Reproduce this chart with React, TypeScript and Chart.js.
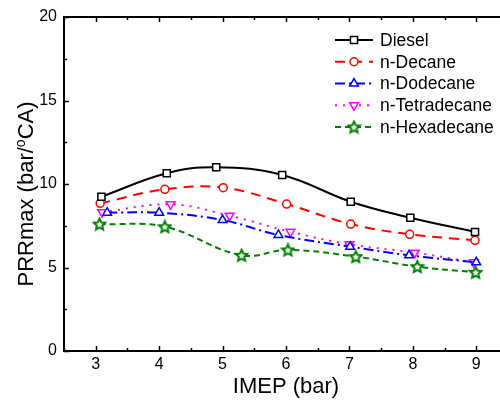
import React, { useEffect, useRef } from 'react';
import { Chart, registerables } from 'chart.js';
import { drawPoint } from 'chart.js/helpers';

Chart.register(...registerables);

const SERIES_NAMES = ['Diesel', 'n-Decane', 'n-Dodecane', 'n-Tetradecane', 'n-Hexadecane'];

const IMEP_DIESEL = [3.09, 4.12, 4.9, 5.94, 7.02, 7.96, 8.98];
const PRR_DIESEL = [9.24, 10.64, 11.0, 10.54, 8.94, 7.98, 7.13];

const IMEP_DECANE = [3.07, 4.09, 5.01, 6.01, 7.02, 7.95, 8.98];
const PRR_DECANE = [8.84, 9.68, 9.78, 8.8, 7.6, 6.99, 6.63];

const IMEP_DODECANE = [3.18, 4.0, 5.0, 5.88, 7.01, 7.94, 9.0];
const PRR_DODECANE = [8.28, 8.28, 7.84, 6.95, 6.25, 5.73, 5.31];

const IMEP_TETRADECANE = [3.1, 4.18, 5.11, 6.07, 7.0, 8.03, 8.96];
const PRR_TETRADECANE = [8.31, 8.78, 8.1, 7.14, 6.39, 5.89, 5.31];

const IMEP_HEXADECANE = [3.06, 4.09, 5.3, 6.03, 7.1, 8.07, 8.99];
const PRR_HEXADECANE = [7.6, 7.44, 5.73, 6.05, 5.65, 5.05, 4.71];

const X_TICKS = [3, 4, 5, 6, 7, 8, 9];
const Y_TICKS = [0, 5, 10, 15, 20];
const X_MIN = 2.5;
const X_MAX = 9.5;
const Y_MIN = 0;
const Y_MAX = 20;

const X_TITLE = 'IMEP (bar)';
const Y_TITLE_PARTS = ['PRRmax (bar/', 'o', 'CA)'];

const FONT = 'Arial, "Liberation Sans", sans-serif';

function makeStar(color: string) {
  const c = document.createElement('canvas');
  c.width = 15;
  c.height = 15;
  const ctx = c.getContext('2d')!;
  ctx.beginPath();
  for (let i = 0; i < 10; i++) {
    const r = i % 2 === 0 ? 6 : 2.9;
    const a = -Math.PI / 2 + (i * Math.PI) / 5;
    ctx.lineTo(7.5 + r * Math.cos(a), 8 + r * Math.sin(a));
  }
  ctx.closePath();
  ctx.fillStyle = '#fff';
  ctx.fill();
  ctx.strokeStyle = color;
  ctx.lineWidth = 2;
  ctx.stroke();
  return c;
}

const framePlugin = {
  id: 'frame',
  afterDraw(chart: any) {
    const ctx = chart.ctx;
    const area = chart.chartArea;
    const xs = chart.scales.x;
    const ys = chart.scales.y;
    ctx.save();
    ctx.setLineDash([]);
    ctx.strokeStyle = '#000';
    // ticks
    ctx.lineWidth = 1.5;
    ctx.beginPath();
    for (let v = X_MIN; v <= X_MAX + 1e-9; v += 0.5) {
      const px = Math.round(xs.getPixelForValue(v)) + 0.5;
      const major = Math.abs(v - Math.round(v)) < 1e-9;
      const len = major ? 5 : 3;
      ctx.moveTo(px, area.bottom);
      ctx.lineTo(px, area.bottom - len);
      ctx.moveTo(px, area.top);
      ctx.lineTo(px, area.top + len);
    }
    for (let v = Y_MIN; v <= Y_MAX + 1e-9; v += 2.5) {
      const py = Math.round(ys.getPixelForValue(v)) + 0.5;
      const major = Math.abs(v / 5 - Math.round(v / 5)) < 1e-9;
      const len = major ? 5 : 3;
      ctx.moveTo(area.left, py);
      ctx.lineTo(area.left + len, py);
    }
    ctx.stroke();
    // frame
    ctx.lineWidth = 2;
    ctx.beginPath();
    ctx.moveTo(area.right + 5, area.top);
    ctx.lineTo(area.left, area.top);
    ctx.lineTo(area.left, area.bottom);
    ctx.lineTo(area.right + 5, area.bottom);
    ctx.stroke();

    // axis titles
    ctx.fillStyle = '#000';
    ctx.font = `22px ${FONT}`;
    ctx.textAlign = 'center';
    ctx.textBaseline = 'alphabetic';
    ctx.fillText(X_TITLE, (area.left + area.right) / 2, 393);

    ctx.translate(33, (area.top + area.bottom) / 2 + 10);
    ctx.rotate(-Math.PI / 2);
    ctx.textAlign = 'left';
    const mainFont = `22px ${FONT}`;
    const supFont = `14px ${FONT}`;
    ctx.font = mainFont;
    const w0 = ctx.measureText(Y_TITLE_PARTS[0]).width;
    const w2 = ctx.measureText(Y_TITLE_PARTS[2]).width;
    ctx.font = supFont;
    const w1 = ctx.measureText(Y_TITLE_PARTS[1]).width;
    let x = -(w0 + w1 + w2) / 2;
    ctx.font = mainFont;
    ctx.fillText(Y_TITLE_PARTS[0], x, 0);
    x += w0;
    ctx.font = supFont;
    ctx.fillText(Y_TITLE_PARTS[1], x, -8);
    x += w1;
    ctx.font = mainFont;
    ctx.fillText(Y_TITLE_PARTS[2], x, 0);
    ctx.restore();

    // legend
    ctx.save();
    const lx = area.right - 173;
    chart.data.datasets.forEach((ds: any, i: number) => {
      const y = area.top + 23 + i * 21.75;
      ctx.strokeStyle = ds.borderColor;
      ctx.lineWidth = ds.borderWidth;
      ctx.setLineDash(ds.borderDash || []);
      ctx.beginPath();
      ctx.moveTo(lx, y);
      ctx.lineTo(lx + 38, y);
      ctx.stroke();
      ctx.setLineDash([]);
      ctx.fillStyle = '#fff';
      ctx.strokeStyle = ds.borderColor;
      ctx.lineWidth = ds.pointBorderWidth;
      drawPoint(ctx, {
        pointStyle: ds.pointStyle,
        rotation: ds.pointRotation || 0,
        radius: ds.pointRadius,
        borderWidth: ds.pointBorderWidth,
      } as any, lx + 19, y);
      ctx.fillStyle = '#000';
      ctx.font = `17.5px ${FONT}`;
      ctx.textAlign = 'left';
      ctx.textBaseline = 'middle';
      ctx.fillText(ds.label, lx + 45, y + 1);
    });
    ctx.restore();
  },
};

export default function App() {
  const ref = useRef<HTMLCanvasElement>(null);
  useEffect(() => {
    document.body.style.margin = '0';
    const star = makeStar('#008000');
    const pts = (xs: number[], ys: number[]) => xs.map((x, i) => ({ x, y: ys[i] }));
    const chart = new Chart(ref.current!, {
      type: 'line',
      data: {
        datasets: [
          {
            label: SERIES_NAMES[0],
            data: pts(IMEP_DIESEL, PRR_DIESEL),
            borderColor: '#000000',
            borderWidth: 2,
            borderDash: [],
            pointStyle: 'rect',
            pointRadius: 5,
            pointBorderWidth: 1.5,
            pointBackgroundColor: '#fff',
            pointBorderColor: '#000000',
            tension: 0.4,
          },
          {
            label: SERIES_NAMES[1],
            data: pts(IMEP_DECANE, PRR_DECANE),
            borderColor: '#ff0000',
            borderWidth: 2,
            borderDash: [10, 7],
            pointStyle: 'circle',
            pointRadius: 4,
            pointBorderWidth: 1.5,
            pointBackgroundColor: '#fff',
            pointBorderColor: '#ff0000',
            tension: 0.4,
          },
          {
            label: SERIES_NAMES[2],
            data: pts(IMEP_DODECANE, PRR_DODECANE),
            borderColor: '#0000ff',
            borderWidth: 2,
            borderDash: [10, 4, 2, 4],
            pointStyle: 'triangle',
            pointRadius: 5,
            pointBorderWidth: 1.5,
            pointBackgroundColor: '#fff',
            pointBorderColor: '#0000ff',
            tension: 0.4,
          },
          {
            label: SERIES_NAMES[3],
            data: pts(IMEP_TETRADECANE, PRR_TETRADECANE),
            borderColor: '#ff00ff',
            borderWidth: 2,
            borderDash: [2, 6],
            pointStyle: 'triangle',
            pointRotation: 180,
            pointRadius: 5,
            pointBorderWidth: 1.5,
            pointBackgroundColor: '#fff',
            pointBorderColor: '#ff00ff',
            tension: 0.4,
          },
          {
            label: SERIES_NAMES[4],
            data: pts(IMEP_HEXADECANE, PRR_HEXADECANE),
            borderColor: '#008000',
            borderWidth: 2,
            borderDash: [6, 4],
            pointStyle: star,
            pointRadius: 6,
            pointBorderWidth: 1.5,
            pointBackgroundColor: '#fff',
            pointBorderColor: '#008000',
            tension: 0.4,
          },
        ] as any,
      },
      options: {
        animation: false,
        responsive: false,
        layout: { autoPadding: false, padding: { top: 17, right: 2, left: 0, bottom: 0 } },
        plugins: { legend: { display: false }, tooltip: { enabled: false } },
        scales: {
          x: {
            type: 'linear',
            min: X_MIN,
            max: X_MAX,
            afterFit: (s: any) => {
              s.height = 50;
              s.paddingLeft = 0;
              s.paddingRight = 0;
              s.paddingTop = 0;
              s.paddingBottom = 0;
            },
            afterBuildTicks: (s: any) => {
              s.ticks = X_TICKS.map((v) => ({ value: v }));
            },
            grid: { display: false, drawTicks: false },
            border: { display: false },
            ticks: { padding: 4, color: '#000', font: { family: FONT, size: 16 } },
          },
          y: {
            type: 'linear',
            min: Y_MIN,
            max: Y_MAX,
            afterFit: (s: any) => {
              s.width = 64;
              s.paddingLeft = 0;
              s.paddingRight = 0;
              s.paddingTop = 0;
              s.paddingBottom = 0;
            },
            afterBuildTicks: (s: any) => {
              s.ticks = Y_TICKS.map((v) => ({ value: v }));
            },
            grid: { display: false, drawTicks: false },
            border: { display: false },
            ticks: { padding: 7, color: '#000', font: { family: FONT, size: 16 } },
          },
        },
      } as any,
      plugins: [framePlugin],
    });
    return () => chart.destroy();
  }, []);
  return (
    <div style={{ width: 500, height: 401, overflow: 'hidden', position: 'relative' }}>
      <canvas ref={ref} width={510} height={401} style={{ display: 'block' }} />
    </div>
  );
}
